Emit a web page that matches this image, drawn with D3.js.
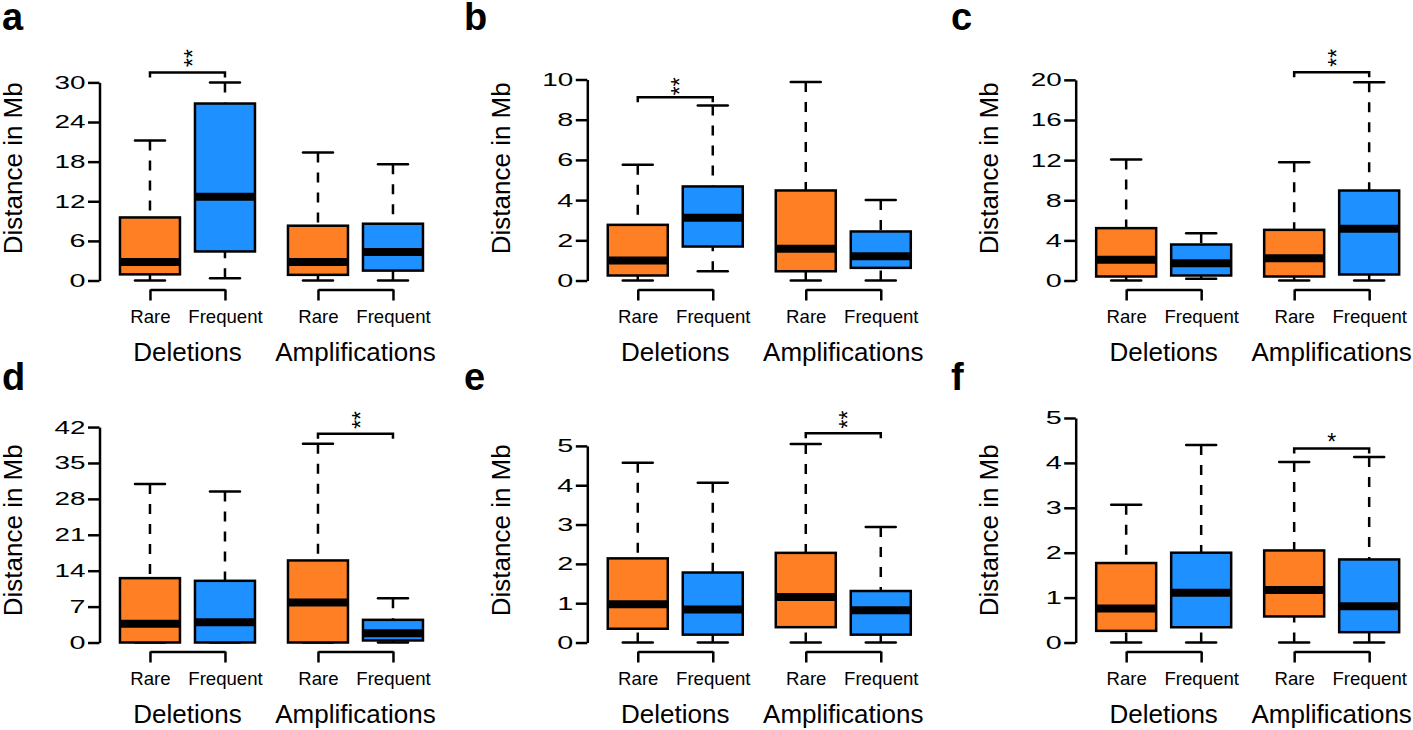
<!DOCTYPE html>
<html>
<head>
<meta charset="utf-8">
<script src="https://cdn.jsdelivr.net/npm/d3@7"></script>
<style>
  body { margin: 0; background: #fff; }
  svg { display: block; }
  text { font-family: "Liberation Sans", Arial, Helvetica, sans-serif; fill: #000; }
</style>
</head>
<body>
<svg id="chart" width="1413" height="730"></svg>
<script>
// panel data
const panelLetters = ["a", "b", "c", "d", "e", "f"];
const groupNames = ["Deletions", "Amplifications"];
const boxLabels = ["Rare", "Frequent", "Rare", "Frequent"];
const boxColors = ["#ff7f24", "#1e90ff", "#ff7f24", "#1e90ff"];
const boxPos = [1, 2, 3.24, 4.24];

// each box: [lower whisker, Q1, median, Q3, upper whisker]
const statsA = [[0, 0.93, 2.8, 9.55, 21.2], [0.35, 4.4, 12.7, 26.8, 30.0], [0, 0.86, 2.8, 8.3, 19.4], [0, 1.5, 4.3, 8.6, 17.6]];
const statsB = [[0, 0.25, 1.0, 2.77, 5.76], [0.46, 1.69, 3.12, 4.68, 8.71], [0, 0.46, 1.58, 4.48, 9.87], [0, 0.63, 1.21, 2.44, 4.01]];
const statsC = [[0, 0.4, 2.06, 5.22, 12.06], [0.17, 0.5, 1.73, 3.59, 4.72], [0, 0.4, 2.23, 5.05, 11.8], [0, 0.6, 5.15, 8.97, 19.77]];
const statsD = [[0, 0, 3.65, 12.55, 30.9], [0, 0, 3.97, 12.03, 29.45], [0, 0, 7.8, 16.0, 38.74], [0, 0.4, 1.82, 4.42, 8.65]];
const statsE = [[0, 0.35, 0.97, 2.14, 4.57], [0, 0.2, 0.84, 1.78, 4.06], [0, 0.39, 1.16, 2.28, 5.05], [0, 0.2, 0.82, 1.31, 2.94]];
const statsF = [[0, 0.26, 0.76, 1.77, 3.07], [0, 0.34, 1.11, 2.0, 4.4], [0, 0.58, 1.17, 2.05, 4.02], [0, 0.23, 0.81, 1.85, 4.13]];
const allStats = [statsA, statsB, statsC, statsD, statsE, statsF];

const ticksA = [0, 6, 12, 18, 24, 30];
const ticksB = [0, 2, 4, 6, 8, 10];
const ticksC = [0, 4, 8, 12, 16, 20];
const ticksD = [0, 7, 14, 21, 28, 35, 42];
const ticksE = [0, 1, 2, 3, 4, 5];
const ticksF = [0, 1, 2, 3, 4, 5];
const allTicks = [ticksA, ticksB, ticksC, ticksD, ticksE, ticksF];
// upper y limit of each plot (R's ylim)
const yLimits = [34, 11.17, 22.38, 43.77, 5.71, 5];

// significance brackets: which pair (0 = deletions, 1 = amplifications)
const sigGroup = [0, 0, 1, 1, 1, 1];
const sigBar = [31.5, 9.12, 20.77, 40.7, 5.32, 4.32];
const sigMark = [33.7, 9.66, 22.2, 43.4, 5.67, 4.57];
const sigText = ["**", "**", "**", "**", "**", "*"];

const yTitle = "Distance in Mb";

// layout
const colAxisX = [99.5, 587.3, 1075.7];
const rowTop = [47, 409];
const rowBottom = [289.5, 651.5];
const letterX = [2, 464, 951];
const letterY = [30, 390];
const unitPx = 75;
const lw = 2.5;
const digitW = 15; // the tick digits are drawn wide in the original

const svg = d3.select("#chart");

panelLetters.forEach(function (letter, i) {
  const col = i % 3;
  const row = Math.floor(i / 3);
  const ax = colAxisX[col];
  const top = rowTop[row];
  const bottom = rowBottom[row];
  const ymax = yLimits[i];
  const stats = allStats[i];
  const ticks = allTicks[i];

  const x = d3.scaleLinear()
    .domain([0.327, 4.24])
    .range([ax, ax + (4.24 - 0.327) * unitPx]);
  const y = d3.scaleLinear()
    .domain([-0.04 * ymax, 1.04 * ymax])
    .range([bottom, top]);

  const g = svg.append("g").attr("class", "panel-" + letter);

  // panel letter
  svg.append("text")
    .attr("x", letterX[col])
    .attr("y", letterY[row])
    .attr("font-size", 38)
    .attr("font-weight", "bold")
    .text(letter);

  // y axis (line only spans the ticks, like base R)
  const yAxisScale = y.copy()
    .domain([ticks[0], ticks[ticks.length - 1]])
    .range([y(ticks[0]), y(ticks[ticks.length - 1])]);
  const yAxis = g.append("g")
    .attr("transform", `translate(${ax},0)`)
    .call(d3.axisLeft(yAxisScale).tickValues(ticks).tickSize(11.5).tickSizeOuter(0)
      .tickFormat(d3.format("d")));
  yAxis.select(".domain").attr("stroke-width", lw);
  yAxis.selectAll(".tick line").attr("stroke-width", lw);
  yAxis.selectAll(".tick text")
    .attr("font-size", 18.6)
    .attr("font-family", null)
    .attr("x", -14)
    .attr("textLength", d => String(d).length * digitW + 1)
    .attr("lengthAdjust", "spacingAndGlyphs");

  // y title
  g.append("text")
    .attr("transform", `translate(${ax - 77.5},${(top + bottom) / 2}) rotate(-90)`)
    .attr("text-anchor", "middle")
    .attr("font-size", 26)
    .text(yTitle);

  // x axis: one short axis per group
  groupNames.forEach(function (name, gi) {
    const p0 = boxPos[gi * 2], p1 = boxPos[gi * 2 + 1];
    const xs = x.copy().domain([p0, p1]).range([x(p0), x(p1)]);
    const xAxis = g.append("g")
      .attr("transform", `translate(0,${bottom})`)
      .call(d3.axisBottom(xs).tickValues([p0, p1]).tickSize(11).tickSizeOuter(0)
        .tickFormat((d, k) => boxLabels[gi * 2 + k]));
    xAxis.select(".domain").attr("stroke-width", lw);
    xAxis.selectAll(".tick line").attr("stroke-width", lw);
    xAxis.selectAll(".tick text")
      .attr("font-size", 18.6)
      .attr("font-family", null)
      .attr("y", 33)
      .attr("dy", null);

    g.append("text")
      .attr("x", (x(p0) + x(p1)) / 2)
      .attr("y", bottom + 71)
      .attr("text-anchor", "middle")
      .attr("font-size", 26)
      .text(name);
  });

  // boxes
  const halfBox = 0.4 * unitPx;
  const halfCap = 0.2 * unitPx;
  const boxes = g.selectAll(".box")
    .data(stats)
    .enter()
    .append("g")
    .attr("class", "box");

  // whiskers, drawn from the staple toward the box
  [[4, 3], [0, 1]].forEach(function (pair) {
    boxes.append("line")
      .attr("x1", (d, k) => x(boxPos[k]))
      .attr("x2", (d, k) => x(boxPos[k]))
      .attr("y1", d => y(d[pair[0]]))
      .attr("y2", d => y(d[pair[1]]))
      .attr("stroke", "#000")
      .attr("stroke-width", lw)
      .attr("stroke-dasharray", "10,10");
  });

  // staples
  [0, 4].forEach(function (si) {
    boxes.append("line")
      .attr("x1", (d, k) => x(boxPos[k]) - halfCap)
      .attr("x2", (d, k) => x(boxPos[k]) + halfCap)
      .attr("y1", d => y(d[si]))
      .attr("y2", d => y(d[si]))
      .attr("stroke", "#000")
      .attr("stroke-width", lw)
      .attr("stroke-linecap", "round");
  });

  boxes.append("rect")
    .attr("x", (d, k) => x(boxPos[k]) - halfBox)
    .attr("width", 2 * halfBox)
    .attr("y", d => y(d[3]))
    .attr("height", d => y(d[1]) - y(d[3]))
    .attr("fill", (d, k) => boxColors[k])
    .attr("stroke", "#000")
    .attr("stroke-width", lw);

  boxes.append("line")
    .attr("x1", (d, k) => x(boxPos[k]) - halfBox)
    .attr("x2", (d, k) => x(boxPos[k]) + halfBox)
    .attr("y1", d => y(d[2]))
    .attr("y2", d => y(d[2]))
    .attr("stroke", "#000")
    .attr("stroke-width", 8);

  // significance bracket
  const b0 = x(boxPos[sigGroup[i] * 2]);
  const b1 = x(boxPos[sigGroup[i] * 2 + 1]);
  const by = y(sigBar[i]);
  g.append("path")
    .attr("d", `M${b0},${by + 5}V${by}H${b1}V${by + 5}`)
    .attr("fill", "none")
    .attr("stroke", "#000")
    .attr("stroke-width", lw);
  const mx = (b0 + b1) / 2, my = y(sigMark[i]);
  g.append("text")
    .attr("transform", sigText[i].length > 1 ? `translate(${mx},${my}) rotate(-90)` : `translate(${mx},${my})`)
    .attr("text-anchor", "middle")
    .attr("dy", "0.57em")
    .attr("font-size", 23)
    .text(sigText[i]);
});
</script>
</body>
</html>
